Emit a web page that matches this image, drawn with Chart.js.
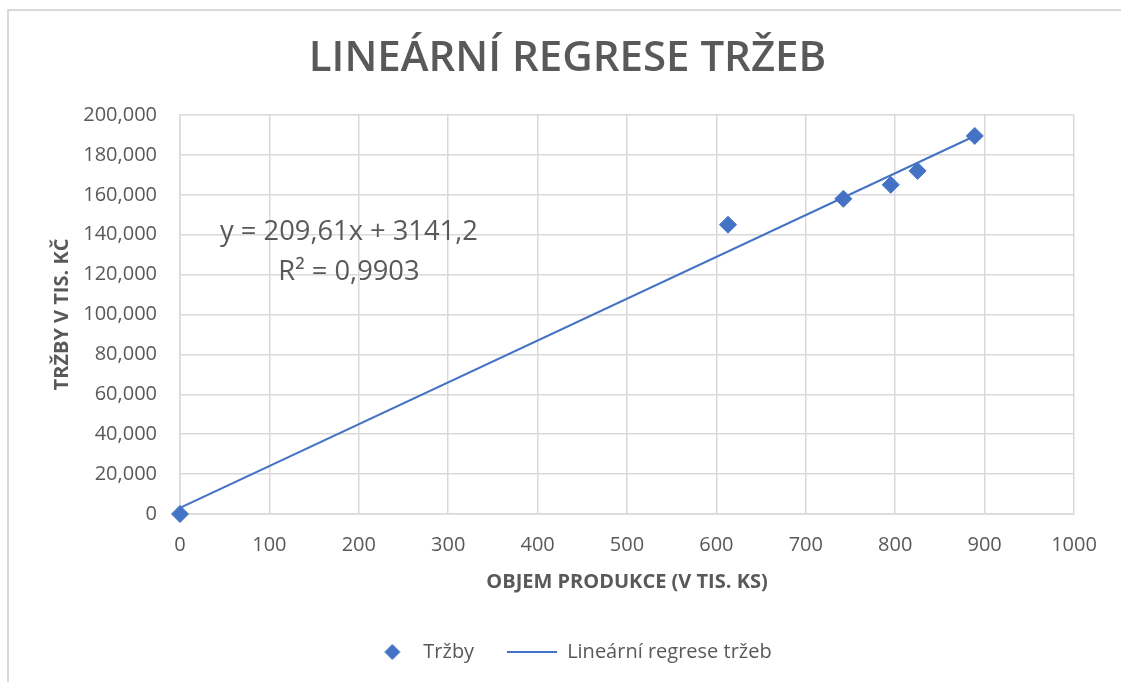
<!DOCTYPE html>
<html>
<head>
<meta charset="utf-8">
<script src="https://cdn.jsdelivr.net/npm/chart.js@4.4.0/dist/chart.umd.min.js"></script>
<style>
  html, body { margin: 0; padding: 0; background: #fff; overflow: hidden; }
  #frame { position: absolute; left: 7px; top: 9px; width: 1200px; height: 700px;
           border-top: 2px solid #d9d9d9; border-left: 2px solid #d9d9d9; }
  #wrap { position: absolute; left: 0; top: 0; width: 1135px; height: 682px; }
</style>
</head>
<body>
<div id="frame"></div>
<div id="wrap"><canvas id="chart" width="1135" height="682"></canvas></div>
<script>
// Data
const volume = [0, 613, 742, 795, 825, 889];               // objem produkce (tis. ks)
const sales = [0, 145000, 158000, 165000, 172000, 189500]; // tržby (tis. Kč)
const trendVolume = [0, 889];
const trendSales = [3141, 189484];
const seriesNames = ['Tržby', 'Lineární regrese tržeb'];
const equationLines = ['y = 209,61x + 3141,2', 'R² = 0,9903'];

const xMin = 0, xMax = 1000, xStep = 100;
const yMin = 0, yMax = 200000, yStep = 20000;

const blue = '#4472C4';
const textGray = '#595959';
const gridGray = '#d9d9d9';

Chart.defaults.font.family = "'Open Sans', sans-serif";
Chart.defaults.color = textGray;

// small legend icons (diamond + line)
function makeDiamondIcon() {
    const c = document.createElement('canvas');
    c.width = 100; c.height = 20;
    const g = c.getContext('2d');
    g.fillStyle = blue;
    g.beginPath();
    g.moveTo(54 - 8, 10); g.lineTo(54, 2); g.lineTo(54 + 8, 10); g.lineTo(54, 18);
    g.closePath();
    g.fill();
    return c;
}
function makeLineIcon() {
    const c = document.createElement('canvas');
    c.width = 50; c.height = 4;
    const g = c.getContext('2d');
    g.fillStyle = blue;
    g.fillRect(0, 1, 50, 2);
    return c;
}
const legendIcons = [makeDiamondIcon(), makeLineIcon()];

// trendline equation label, anchored in data units
const equationLabel = {
    id: 'equationLabel',
    afterDatasetsDraw(chart) {
        const { ctx, scales: { x, y } } = chart;
        const anchorsY = [141000, 121300];
        ctx.save();
        ctx.font = "27.3px 'Open Sans', sans-serif";
        ctx.fillStyle = textGray;
        ctx.textAlign = 'center';
        ctx.textBaseline = 'middle';
        equationLines.forEach((line, i) => {
            ctx.fillText(line, x.getPixelForValue(189), y.getPixelForValue(anchorsY[i]));
        });
        ctx.restore();
    }
};

const ctx = document.getElementById('chart').getContext('2d');
new Chart(ctx, {
    type: 'scatter',
    data: {
        datasets: [
            {
                label: seriesNames[0],
                data: volume.map((v, i) => ({ x: v, y: sales[i] })),
                pointStyle: 'rectRot',
                pointRadius: 8.5,
                pointBackgroundColor: blue,
                pointBorderColor: blue,
                pointBorderWidth: 1,
                clip: false
            },
            {
                label: seriesNames[1],
                data: trendVolume.map((v, i) => ({ x: v, y: trendSales[i] })),
                showLine: true,
                borderColor: blue,
                backgroundColor: blue,
                borderWidth: 2,
                pointRadius: 0
            }
        ]
    },
    options: {
        responsive: false,
        animation: false,
        layout: { padding: { left: 0, right: 0, top: 0, bottom: 10 } },
        plugins: {
            tooltip: { enabled: false },
            title: {
                display: true,
                text: 'LINEÁRNÍ REGRESE TRŽEB',
                color: textGray,
                font: { size: 42, weight: '600', lineHeight: 1.2 },
                padding: { top: 34, bottom: 30.6 }
            },
            legend: {
                position: 'bottom',
                labels: {
                    usePointStyle: true,
                    pointStyleWidth: 50,
                    padding: 33,
                    color: textGray,
                    font: { size: 20 },
                    sort: (a, b) => a.datasetIndex - b.datasetIndex,
                    generateLabels(chart) {
                        const items = Chart.defaults.plugins.legend.labels.generateLabels(chart);
                        items.forEach((it) => { it.pointStyle = legendIcons[it.datasetIndex]; });
                        return items;
                    }
                }
            }
        },
        scales: {
            x: {
                type: 'linear',
                min: xMin, max: xMax,
                afterFit: (scale) => { scale.height = 95; },
                ticks: { stepSize: xStep, padding: 19, color: textGray, font: { size: 20 },
                         callback: (v) => String(v) },
                grid: { color: gridGray, lineWidth: 1.5, drawTicks: false },
                border: { color: gridGray, width: 1.5 },
                title: {
                    display: true,
                    text: 'OBJEM PRODUKCE (V TIS. KS)',
                    color: textGray,
                    font: { size: 20, weight: 'bold', lineHeight: 1.2 },
                    padding: { top: 0, bottom: 15 }
                }
            },
            y: {
                type: 'linear',
                min: yMin, max: yMax,
                afterFit: (scale) => { scale.width = 180; },
                ticks: {
                    stepSize: yStep, padding: 23, color: textGray, font: { size: 20 },
                    callback: (v) => v.toLocaleString('en-US')
                },
                grid: { color: gridGray, lineWidth: 1.5, drawTicks: false },
                border: { color: gridGray, width: 1.5 },
                title: {
                    display: true,
                    text: 'TRŽBY V TIS. KČ',
                    color: textGray,
                    font: { size: 20, weight: 'bold', lineHeight: 1.2 },
                    padding: { top: 50, bottom: 0 }
                }
            },
            // empty right-hand spacer so title and legend stay centred on the whole frame
            spacer: {
                type: 'linear',
                position: 'right',
                afterFit: (scale) => { scale.width = 61; },
                ticks: { display: false },
                grid: { display: false, drawTicks: false },
                border: { display: false }
            }
        }
    },
    plugins: [equationLabel]
});
</script>
</body>
</html>
